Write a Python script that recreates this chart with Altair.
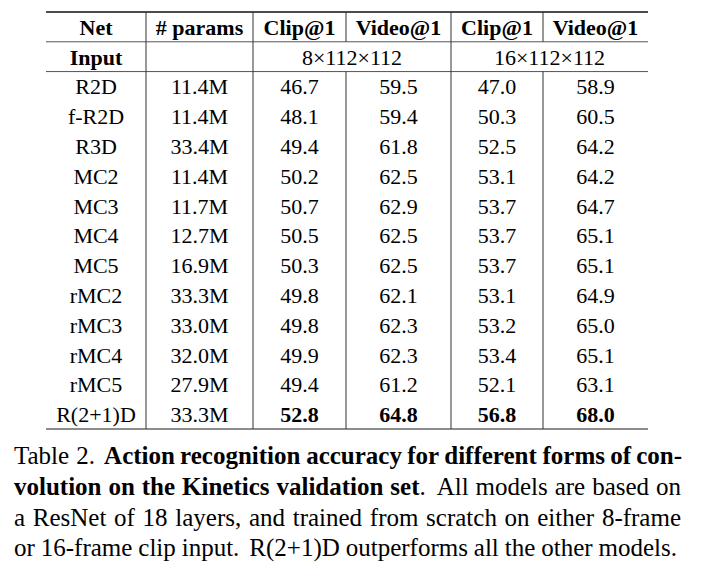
import altair as alt
import pandas as pd

# ---------------- data ----------------
headers = ["Net", "# params", "Clip@1", "Video@1", "Clip@1", "Video@1"]
input_label = "Input"
inputs = ["8×112×112", "16×112×112"]
nets = ["R2D", "f-R2D", "R3D", "MC2", "MC3", "MC4", "MC5",
        "rMC2", "rMC3", "rMC4", "rMC5", "R(2+1)D"]
params = ["11.4M", "11.4M", "33.4M", "11.4M", "11.7M", "12.7M", "16.9M",
          "33.3M", "33.0M", "32.0M", "27.9M", "33.3M"]
clip8 = [46.7, 48.1, 49.4, 50.2, 50.7, 50.5, 50.3, 49.8, 49.8, 49.9, 49.4, 52.8]
video8 = [59.5, 59.4, 61.8, 62.5, 62.9, 62.5, 62.5, 62.1, 62.3, 62.3, 61.2, 64.8]
clip16 = [47.0, 50.3, 52.5, 53.1, 53.7, 53.7, 53.7, 53.1, 53.2, 53.4, 52.1, 56.8]
video16 = [58.9, 60.5, 64.2, 64.2, 64.7, 65.1, 65.1, 64.9, 65.0, 65.1, 63.1, 68.0]
best_row = "R(2+1)D"

# caption: each line is a list of (text, bold) runs
caption_lines = [
    [("Table 2. ", False), ("Action recognition accuracy for different forms of con-", True)],
    [("volution on the Kinetics validation set", True), (". All models are based on", False)],
    [("a ResNet of 18 layers, and trained from scratch on either 8-frame", False)],
    [("or 16-frame clip input. R(2+1)D outperforms all the other models.", False)],
]

# ---------------- layout ----------------
W, H = 692, 556
col_edges = [46, 146, 253, 346, 451, 543, 648]
table_top, table_bottom = 12, 429
n_rows = 2 + len(nets)
row_h = (table_bottom - table_top) / n_rows
cap_left = 14
cap_right = [682, 681, 681, 677]
cap_base_y = [464, 495, 526, 556]
FONT = "Liberation Serif"
TFS = 22
CFS = 25

# Times metrics (1/1000 em) used only to justify the caption lines
_reg = dict(zip(" ()+,-.0123456789@", [250, 333, 333, 564, 250, 333, 250] + [500] * 10 + [921]))
_reg.update(dict(zip("ABCDEFGHIJKLMNOPQRSTUVWXYZ",
                     [722, 667, 667, 722, 611, 556, 722, 722, 333, 389, 722, 611, 889, 722, 722, 556,
                      722, 667, 556, 611, 722, 722, 944, 722, 722, 611])))
_reg.update(dict(zip("abcdefghijklmnopqrstuvwxyz",
                     [444, 500, 444, 500, 444, 333, 500, 500, 278, 278, 500, 278, 778, 500, 500, 500,
                      500, 333, 389, 278, 500, 500, 722, 500, 500, 444])))
_bold = dict(zip(" ()+,-.0123456789@", [250, 333, 333, 570, 250, 333, 250] + [500] * 10 + [930]))
_bold.update(dict(zip("ABCDEFGHIJKLMNOPQRSTUVWXYZ",
                      [722, 667, 722, 722, 667, 611, 778, 778, 389, 500, 778, 667, 944, 722, 778, 611,
                       778, 722, 556, 667, 722, 722, 1000, 722, 722, 667])))
_bold.update(dict(zip("abcdefghijklmnopqrstuvwxyz",
                      [500, 556, 444, 556, 444, 333, 500, 556, 278, 333, 556, 278, 833, 556, 500, 556,
                       556, 444, 389, 333, 556, 500, 722, 500, 500, 444])))


def tw(s, bold, fs):
    m = _bold if bold else _reg
    return sum(m.get(ch, 500) for ch in s) * fs / 1000.0


def justify(line, right, y):
    words, cur = [], []
    for text, bold in line:
        parts = text.split(" ")
        for k, p in enumerate(parts):
            if k > 0:
                if cur:
                    words.append(cur)
                cur = []
            if p:
                cur.append((p, bold))
    if cur:
        words.append(cur)
    widths = [sum(tw(s, b, CFS) for s, b in wd) for wd in words]
    space = tw(" ", False, CFS)
    extra_nat = [4.0 if "".join(s for s, _ in words[i]).endswith(".") else 0.0
                 for i in range(len(words) - 1)]
    nat = sum(widths) + space * (len(words) - 1) + sum(extra_nat)
    stretch = (right - cap_left - nat) / max(1, len(words) - 1)
    out, x = [], cap_left
    for i, wd in enumerate(words):
        sx = x
        for s, b in wd:
            out.append(dict(x=sx, y=y, t=s, w="bold" if b else "normal"))
            sx += tw(s, b, CFS)
        if i < len(words) - 1:
            x += widths[i] + space + extra_nat[i] + stretch
    return out


def row_center(r):
    return table_top + (r + 0.5) * row_h


def row_edge(r):
    return table_top + r * row_h


col_center = [(col_edges[i] + col_edges[i + 1]) / 2 for i in range(6)]

cells = []
for c, h in enumerate(headers):
    cells.append(dict(x=col_center[c], y=row_center(0), t=h, w="bold"))
cells.append(dict(x=col_center[0], y=row_center(1), t=input_label, w="bold"))
cells.append(dict(x=(col_edges[2] + col_edges[4]) / 2, y=row_center(1), t=inputs[0], w="normal"))
cells.append(dict(x=(col_edges[4] + col_edges[6]) / 2, y=row_center(1), t=inputs[1], w="normal"))
for i, n in enumerate(nets):
    r = i + 2
    vals = [n, params[i], f"{clip8[i]:.1f}", f"{video8[i]:.1f}",
            f"{clip16[i]:.1f}", f"{video16[i]:.1f}"]
    for c, v in enumerate(vals):
        w = "bold" if (n == best_row and c >= 2) else "normal"
        cells.append(dict(x=col_center[c], y=row_center(r), t=v, w=w))
cells = pd.DataFrame(cells)

hrules = pd.DataFrame([
    dict(x=col_edges[0], x2=col_edges[-1], y=row_edge(0), sw=1.3, col="#111111"),
    dict(x=col_edges[0], x2=col_edges[-1], y=row_edge(1), sw=1.0, col="#555555"),
    dict(x=col_edges[0], x2=col_edges[-1], y=row_edge(2), sw=1.0, col="#555555"),
    dict(x=col_edges[0], x2=col_edges[-1], y=row_edge(n_rows), sw=1.6, col="#666666"),
])

vr = []
for c in [1, 2, 4]:
    vr.append(dict(x=col_edges[c], y=row_edge(0), y2=row_edge(n_rows)))
for c in [3, 5]:
    vr.append(dict(x=col_edges[c], y=row_edge(0), y2=row_edge(1)))
    vr.append(dict(x=col_edges[c], y=row_edge(2), y2=row_edge(n_rows)))
vrules = pd.DataFrame(vr)

caps = []
for li, line in enumerate(caption_lines):
    caps += justify(line, cap_right[li], cap_base_y[li])
caps = pd.DataFrame(caps)

xs = alt.Scale(domain=[8, 8 + W], nice=False, zero=False)
ys = alt.Scale(domain=[8 + H, 8], nice=False, zero=False)
X = lambda f: alt.X(f, type="quantitative", scale=xs, axis=None)
Y = lambda f: alt.Y(f, type="quantitative", scale=ys, axis=None)

layers = []
for w in ["normal", "bold"]:
    d = cells[cells.w == w]
    layers.append(
        alt.Chart(d).mark_text(font=FONT, fontSize=TFS, fontWeight=w, color="#000000",
                               baseline="middle", align="center", dy=1)
        .encode(x=X("x"), y=Y("y"), text="t:N")
    )

layers.append(
    alt.Chart(hrules).mark_rule().encode(
        x=X("x"), x2="x2", y=Y("y"),
        strokeWidth=alt.StrokeWidth("sw:Q", scale=None),
        color=alt.Color("col:N", scale=None))
)
layers.append(
    alt.Chart(vrules).mark_rule(color="#333333", strokeWidth=1).encode(
        x=X("x"), y=Y("y"), y2="y2")
)

for w in ["normal", "bold"]:
    d = caps[caps.w == w]
    layers.append(
        alt.Chart(d).mark_text(font=FONT, fontSize=CFS, fontWeight=w, color="#000000",
                               baseline="alphabetic", align="left")
        .encode(x=X("x"), y=Y("y"), text="t:N")
    )

chart = alt.layer(*layers).properties(
    width=W, height=H, padding=0, autosize="none", background="white"
).configure_view(stroke=None)

chart.save("out.html", embed_options={"renderer": "svg", "actions": False})
